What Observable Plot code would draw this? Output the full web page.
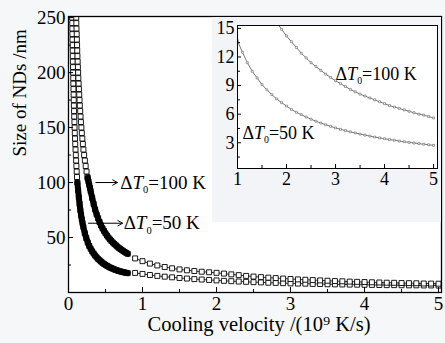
<!DOCTYPE html>
<html><head><meta charset="utf-8">
<script src="https://cdn.jsdelivr.net/npm/d3@7"></script>
<script src="https://cdn.jsdelivr.net/npm/@observablehq/plot@0.6"></script>
<style>
html,body{margin:0;padding:0;background:#f6f7f9;}
#chart{position:relative;width:445px;height:343px;}
#chart svg{position:absolute;overflow:visible;}
</style></head><body><div id="chart"></div>
<script>
// ---------- main chart data (cooling velocity in 10^9 K/s, size in nm) ----------
// steep upper part: sizes and the velocities where each curve reaches them
const sizeSteep = [250,245,240,235,230,225,220,215,210,205,200,195,190,185,180,175,170,165,160,155,150,145,140,135,130,125,120,115,110,105];
const v100Steep = [0.104,0.106,0.108,0.111,0.113,0.116,0.118,0.121,0.124,0.127,0.130,0.133,0.137,0.141,0.145,0.149,0.153,0.158,0.163,0.168,0.174,0.180,0.187,0.194,0.202,0.211,0.221,0.232,0.244,0.256];
const v50Steep  = [0.050,0.051,0.052,0.053,0.054,0.055,0.057,0.058,0.059,0.061,0.062,0.064,0.065,0.067,0.069,0.071,0.073,0.075,0.077,0.080,0.082,0.085,0.088,0.091,0.095,0.099,0.103,0.107,0.111,0.115];
// dense (solid black) part
const v100Dense = [0.26,0.27,0.28,0.29,0.30,0.32,0.34,0.36,0.38,0.40,0.42,0.44,0.46,0.48,0.50,0.52,0.54,0.56,0.58,0.60,0.62,0.64,0.66,0.68,0.70,0.72,0.74,0.76,0.78,0.80];
const size100Dense = [104,101,98,95,92,86,80.5,75.5,71,67.5,64,61,58.3,56,53.8,51.8,50,48.3,46.8,45.4,44.1,42.9,41.7,40.6,39.6,38.6,37.7,36.8,36,35.2];
const v50Dense = [0.12,0.13,0.14,0.15,0.16,0.17,0.18,0.19,0.20,0.22,0.24,0.26,0.28,0.30,0.32,0.34,0.36,0.38,0.40,0.42,0.44,0.46,0.48,0.50,0.52,0.54,0.56,0.58,0.60,0.62,0.64,0.66,0.68,0.70,0.72,0.74,0.76,0.78,0.80];
const size50Dense = [100,93,86.5,80.5,75,70.5,66.5,63,59.8,54,49.5,45.5,42.3,39.7,37.4,35.4,33.6,32,30.6,29.3,28.1,27,26,25.1,24.3,23.5,22.8,22.2,21.6,21,20.5,20,19.6,19.2,18.8,18.5,18.2,17.9,17.6];
// sparse (open squares) part
const vSparse = [0.9,1.0,1.1,1.2,1.3,1.4,1.5,1.6,1.7,1.8,1.9,2.0,2.1,2.2,2.3,2.4,2.5,2.6,2.7,2.8,2.9,3.0,3.1,3.2,3.3,3.4,3.5,3.6,3.7,3.8,3.9,4.0,4.1,4.2,4.3,4.4,4.5,4.6,4.7,4.8,4.9,5.0];
const size100Sparse = [31,28.5,26.3,24.6,23.2,22,21,20.2,19.5,18.9,18.4,17.9,17.2,16.5,15.8,15.1,14.5,14,13.5,13.1,12.7,12.3,11.9,11.6,11.3,11,10.7,10.4,10.2,9.9,9.7,9.5,9.3,9.1,8.9,8.8,8.6,8.5,8.4,8.2,8.1,8.0];
const size50Sparse = [17.8,16.9,15.9,15.1,14.4,13.8,13.2,12.7,12.2,11.8,11.4,11,10.6,10.3,10,9.7,9.4,9.2,8.9,8.7,8.5,8.3,8.1,8,7.8,7.7,7.5,7.4,7.3,7.2,7.1,7,6.9,6.8,6.7,6.7,6.6,6.5,6.5,6.4,6.4,6.3];

// ---------- inset data ----------
const vInset100 = [1.8,1.9,2.0,2.1,2.2,2.3,2.4,2.5,2.6,2.7,2.8,2.9,3.0,3.1,3.2,3.3,3.4,3.5,3.6,3.7,3.8,3.9,4.0,4.1,4.2,4.3,4.4,4.5,4.6,4.7,4.8,4.9,5.0];
const sizeInset100 = [15.6,14.9,14.2,13.6,13.0,12.4,11.9,11.4,11.0,10.6,10.2,9.85,9.5,9.2,8.9,8.6,8.35,8.1,7.9,7.7,7.5,7.3,7.1,6.9,6.75,6.6,6.45,6.3,6.15,6.0,5.9,5.75,5.6];
const vInset50 = [1.0,1.1,1.2,1.3,1.4,1.5,1.6,1.7,1.8,1.9,2.0,2.1,2.2,2.3,2.4,2.5,2.6,2.7,2.8,2.9,3.0,3.1,3.2,3.3,3.4,3.5,3.6,3.7,3.8,3.9,4.0,4.1,4.2,4.3,4.4,4.5,4.6,4.7,4.8,4.9,5.0];
const sizeInset50 = [13.7,12.5,11.4,10.5,9.8,9.1,8.55,8.05,7.6,7.2,6.85,6.5,6.2,5.95,5.7,5.47,5.26,5.07,4.89,4.72,4.56,4.41,4.28,4.15,4.03,3.91,3.8,3.7,3.6,3.51,3.42,3.34,3.26,3.18,3.11,3.04,2.97,2.91,2.85,2.79,2.73];

// ---------- ticks & labels ----------
const mainYTicks = [50,100,150,200,250];
const mainYMinor = [25,75,125,175,225];
const mainXTicks = [0,1,2,3,4,5];
const mainXMinor = [0.5,1.5,2.5,3.5,4.5];
const insetYTicks = [3,6,9,12,15];
const insetYMinor = [1.5,4.5,7.5,10.5,13.5];
const insetXTicks = [1,2,3,4,5];
const insetXMinor = [1.5,2.5,3.5,4.5];
const labelTexts = ["ΔT0=100 K", "ΔT0=50 K"];
const arrowFromV = [0.37, 0.27];
const arrowToV = [0.66, 0.73];
const arrowSize = [100, 63];
const labelV = [0.70, 0.745];
const insetLabelV = [3.0, 1.1];
const insetLabelSize = [10.2, 4.0];
const xTitle = "Cooling velocity /(10⁹ K/s)";
const yTitle = "Size of NDs /nm";

const rows = (xs, ys) => xs.map((x, i) => ({x, y: ys[i]}));
const steep100 = rows(v100Steep, sizeSteep), steep50 = rows(v50Steep, sizeSteep);
const dense100 = rows(v100Dense, size100Dense), dense50 = rows(v50Dense, size50Dense);
const sparse100 = rows(vSparse, size100Sparse), sparse50 = rows(vSparse, size50Sparse);
const allPts = [...steep50, ...steep100, ...dense50, ...dense100, ...sparse50, ...sparse100];
const arrows = arrowFromV.map((v, i) => ({x1: v, x2: arrowToV[i], y: arrowSize[i], lx: labelV[i], text: labelTexts[i]}));
const insetLabels = labelTexts.map((t, i) => ({x: insetLabelV[i], y: insetLabelSize[i], text: t}));

const font = "'Liberation Serif', 'Times New Roman', serif";
const sq = {x: "x", y: "y", symbol: "square", r: 2.8, fill: "white", stroke: "black", strokeWidth: 0.9, clip: true};

const main = Plot.plot({
  width: 445, height: 343,
  marginTop: 16, marginLeft: 68, marginRight: 4, marginBottom: 51,
  x: {domain: [0, 5.04]},
  y: {domain: [0, 251]},
  style: {background: "transparent", fontFamily: font, fontSize: "19px", color: "black"},
  marks: [
    Plot.frame({fill: "white", stroke: null}),
    Plot.line(sparse100, {x: "x", y: "y", stroke: "black", strokeWidth: 0.8}),
    Plot.line(sparse50, {x: "x", y: "y", stroke: "black", strokeWidth: 0.8}),
    Plot.dot(allPts, sq),
    Plot.line(dense100, {x: "x", y: "y", stroke: "black", strokeWidth: 6}),
    Plot.line(dense50, {x: "x", y: "y", stroke: "black", strokeWidth: 6}),
    Plot.frame({stroke: "black", strokeWidth: 1.3}),
    Plot.axisY(mainYTicks, {tickSize: -5, tickFormat: () => "", label: null}),
    Plot.axisY(mainYMinor, {tickSize: -3, tickFormat: () => "", label: null}),
    Plot.axisY(mainYTicks, {tickSize: 0, tickPadding: 3, fontSize: 19, label: null}),
    Plot.axisX(mainXTicks, {tickSize: -5, tickFormat: () => "", label: null}),
    Plot.axisX(mainXMinor, {tickSize: -3, tickFormat: () => "", label: null}),
    Plot.axisX(mainXTicks, {tickSize: 0, tickPadding: 4, fontSize: 19, label: null}),
    Plot.arrow(arrows, {x1: "x1", x2: "x2", y1: "y", y2: "y", stroke: "black", strokeWidth: 1, headLength: 8}),
    Plot.text(arrows, {x: "lx", y: "y", text: "text", textAnchor: "start", fontSize: 19}),
    Plot.text([xTitle], {text: d => d, frameAnchor: "bottom", dy: 38, dx: 4, fontSize: 20.5}),
    Plot.text([yTitle], {text: d => d, frameAnchor: "left", dx: -49, dy: 2, rotate: -90, fontSize: 19})
  ]
});

const inset = Plot.plot({
  width: 229, height: 205,
  marginTop: 8, marginLeft: 25, marginRight: 4, marginBottom: 54,
  x: {domain: [1, 5.08]},
  y: {domain: [0.3, 15.3]},
  style: {background: "#f2f4f7", fontFamily: font, fontSize: "18px", color: "black"},
  marks: [
    Plot.frame({fill: "white", stroke: null}),
    Plot.line(rows(vInset100, sizeInset100), {x: "x", y: "y", stroke: "#555", strokeWidth: 0.8, clip: true}),
    Plot.line(rows(vInset50, sizeInset50), {x: "x", y: "y", stroke: "#555", strokeWidth: 0.8, clip: true}),
    Plot.dot(rows(vInset100, sizeInset100), {x: "x", y: "y", symbol: "square", r: 1.1, fill: "white", stroke: "#666", strokeWidth: 0.6, clip: true}),
    Plot.dot(rows(vInset50, sizeInset50), {x: "x", y: "y", symbol: "square", r: 1.1, fill: "white", stroke: "#666", strokeWidth: 0.6, clip: true}),
    Plot.frame({stroke: "black", strokeWidth: 1}),
    Plot.axisY(insetYTicks, {tickSize: -4, tickFormat: () => "", label: null}),
    Plot.axisY(insetYMinor, {tickSize: -3, tickFormat: () => "", label: null}),
    Plot.axisY(insetYTicks, {tickSize: 0, tickPadding: 3, fontSize: 18, label: null}),
    Plot.axisX(insetXTicks, {tickSize: -4, tickFormat: () => "", label: null}),
    Plot.axisX(insetXMinor, {tickSize: -3, tickFormat: () => "", label: null}),
    Plot.axisX(insetXTicks, {tickSize: 0, tickPadding: 4, fontSize: 18, label: null}),
    Plot.text(insetLabels, {x: "x", y: "y", text: "text", textAnchor: "start", fontSize: 18})
  ]
});

function styleLabels(svg) {
  const NS = "http://www.w3.org/2000/svg";
  svg.querySelectorAll("text").forEach(t => {
    const m = t.textContent.match(/^ΔT0(=.*)$/);
    if (!m) return;
    while (t.firstChild) t.removeChild(t.firstChild);
    t.appendChild(document.createTextNode("Δ"));
    const ti = document.createElementNS(NS, "tspan");
    ti.setAttribute("font-style", "italic"); ti.textContent = "T";
    const sub = document.createElementNS(NS, "tspan");
    sub.setAttribute("font-size", "0.55em"); sub.setAttribute("dy", "0.45em"); sub.textContent = "0";
    const rest = document.createElementNS(NS, "tspan");
    rest.setAttribute("dy", "-0.25em"); rest.textContent = m[1];
    t.append(ti, sub, rest);
  });
}
styleLabels(main); styleLabels(inset);
inset.style.left = "212px"; inset.style.top = "17px";
main.style.left = "0px"; main.style.top = "0px";
const c = document.getElementById("chart");
c.append(main, inset);
</script></body></html>
